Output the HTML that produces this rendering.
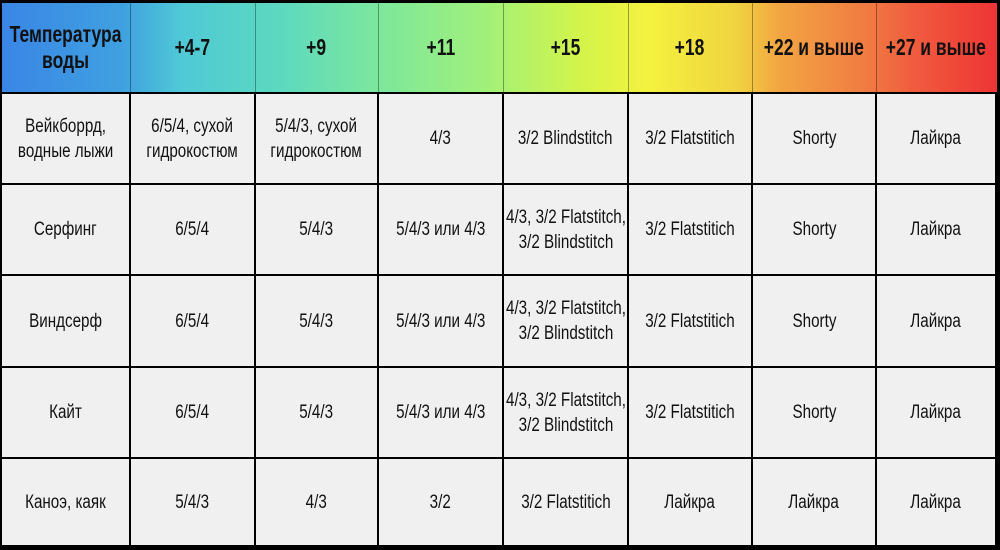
<!DOCTYPE html>
<html><head><meta charset="utf-8"><style>
body{margin:0;width:1000px;height:550px;background:#000;overflow:hidden;font-family:"Liberation Sans",sans-serif;}
.c{position:absolute;display:flex;align-items:center;justify-content:center;text-align:center;background:#f0f0f0;color:#111;font-size:19px;line-height:25px;}
.c span{display:inline-block;white-space:nowrap;transform:scaleX(0.8);}
.h{font-weight:bold;font-size:23px;line-height:26px;color:#111;background:none;}
.h span{transform:scaleX(0.76);}
#hdr{position:absolute;left:2px;top:3px;width:995px;height:89px;background:linear-gradient(90deg,#3a86e6 0%,#3fa0e0 12%,#4fc9d6 18%,#5cd9bf 28%,#7de79c 38%,#9ef07c 48%,#d2f44a 58%,#f4f23e 65%,#f0d240 74%,#f2a642 78%,#f07a42 87%,#f05a3e 92%,#ee3434 100%);}
.vl{position:absolute;top:3px;height:89px;width:1px;background:rgba(0,0,0,0.35);}
</style></head><body>
<div id="hdr"></div>
<div id="t"></div>
<script>
const xs=[2,131,256,379,504,629,753,877,997];
const ys=[3,94,185,276,368,459,547];
const rows=[
["Температура<br>воды","+4-7","+9","+11","+15","+18","+22 и выше","+27 и выше"],
["Вейкборрд,<br>водные лыжи","6/5/4, сухой<br>гидрокостюм","5/4/3, сухой<br>гидрокостюм","4/3","3/2 Blindstitch","3/2 Flatstitich","Shorty","Лайкра"],
["Серфинг","6/5/4","5/4/3","5/4/3 или 4/3","4/3, 3/2 Flatstitch,<br>3/2 Blindstitch","3/2 Flatstitich","Shorty","Лайкра"],
["Виндсерф","6/5/4","5/4/3","5/4/3 или 4/3","4/3, 3/2 Flatstitch,<br>3/2 Blindstitch","3/2 Flatstitich","Shorty","Лайкра"],
["Кайт","6/5/4","5/4/3","5/4/3 или 4/3","4/3, 3/2 Flatstitch,<br>3/2 Blindstitch","3/2 Flatstitich","Shorty","Лайкра"],
["Каноэ, каяк","5/4/3","4/3","3/2","3/2 Flatstitich","Лайкра","Лайкра","Лайкра"]];
let h="";
for(let j=1;j<8;j++) h+=`<div class="vl" style="left:${xs[j]-1}px"></div>`;
rows.forEach((r,i)=>r.forEach((t,j)=>{
 const x=xs[j],y=ys[i],w=xs[j+1]-x-2,hh=ys[i+1]-y-(i==0?3:2);
 h+=`<div class="c${i==0?' h':''}" style="left:${x}px;top:${y}px;width:${w}px;height:${hh}px"><span>${t}</span></div>`;
}));
document.getElementById('t').innerHTML=h;
</script>
</body></html>
